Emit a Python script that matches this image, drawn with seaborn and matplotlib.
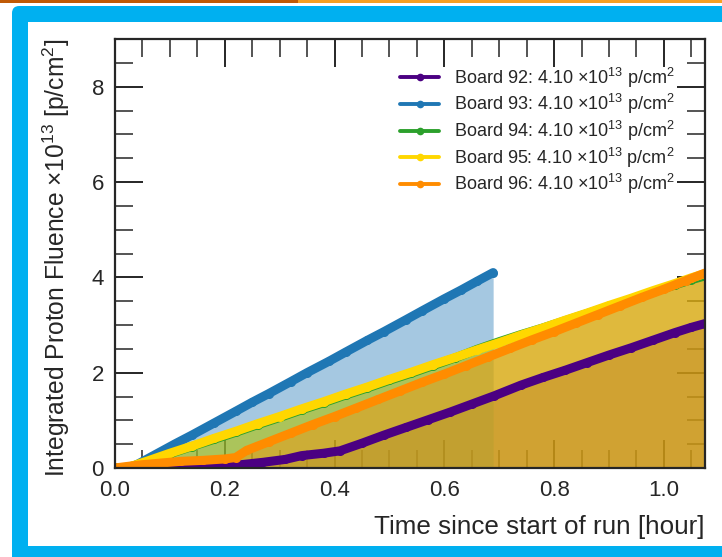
import matplotlib
matplotlib.use("Agg")
import matplotlib.pyplot as plt
import seaborn as sns
from matplotlib.patches import FancyBboxPatch, Rectangle
from matplotlib.ticker import MultipleLocator, FormatStrFormatter

# board labels and colours
boards = ["92", "93", "94", "95", "96"]
colors = ["#4b0082", "#1f77b4", "#2ca02c", "#ffd700", "#ff8c00"]
total_fluence = [4.10, 4.10, 4.10, 4.10, 4.10]

# time since start of run [hour]
t_92 = [0.0, 0.05, 0.09, 0.13, 0.17, 0.21, 0.23, 0.27, 0.31, 0.34, 0.38, 0.41, 0.45, 0.49,
        0.53, 0.57, 0.61, 0.65, 0.69, 0.74, 0.78, 0.82, 0.86, 0.90, 0.94, 0.98, 1.02, 1.05, 1.075]
f_92 = [0.0, 0.0, 0.01, 0.03, 0.05, 0.06, 0.07, 0.12, 0.18, 0.26, 0.31, 0.36, 0.52, 0.69,
        0.85, 1.01, 1.17, 1.34, 1.51, 1.74, 1.90, 2.05, 2.21, 2.37, 2.52, 2.68, 2.84, 2.95, 3.03]

t_93 = [0.0, 0.03, 0.07, 0.11, 0.14, 0.18, 0.22, 0.25, 0.28, 0.32, 0.35, 0.39, 0.42, 0.46,
        0.49, 0.53, 0.56, 0.60, 0.63, 0.66, 0.689]
f_93 = [0.0, 0.01, 0.26, 0.51, 0.69, 0.94, 1.19, 1.38, 1.56, 1.81, 2.00, 2.24, 2.43, 2.68,
        2.86, 3.11, 3.30, 3.55, 3.73, 3.92, 4.10]

t_94 = [0.0, 0.02, 0.06, 0.10, 0.14, 0.18, 0.22, 0.26, 0.30, 0.34, 0.38, 0.42, 0.46, 0.50,
        0.54, 0.58, 0.62, 0.66, 0.70, 0.74, 0.78, 0.82, 0.86, 0.90, 0.94, 0.98, 1.02, 1.05, 1.075]
f_94 = [0.0, 0.0, 0.14, 0.30, 0.45, 0.60, 0.75, 0.91, 1.06, 1.22, 1.37, 1.53, 1.68, 1.84,
        1.99, 2.15, 2.31, 2.49, 2.65, 2.80, 2.94, 3.09, 3.24, 3.39, 3.54, 3.69, 3.84, 3.95, 4.03]

t_95 = [0.0, 0.02, 0.06, 0.10, 0.14, 0.18, 0.22, 0.26, 0.30, 0.34, 0.38, 0.42, 0.46, 0.50,
        0.54, 0.58, 0.62, 0.66, 0.70, 0.74, 0.78, 0.82, 0.86, 0.90, 0.94, 0.98, 1.02, 1.05, 1.075]
f_95 = [0.0, 0.0, 0.15, 0.31, 0.46, 0.62, 0.77, 0.93, 1.08, 1.24, 1.39, 1.55, 1.70, 1.86,
        2.01, 2.17, 2.32, 2.48, 2.63, 2.79, 2.94, 3.10, 3.25, 3.41, 3.56, 3.72, 3.87, 3.99, 4.08]

t_96 = [0.0, 0.02, 0.05, 0.09, 0.12, 0.16, 0.20, 0.22, 0.24, 0.28, 0.32, 0.36, 0.40, 0.44,
        0.48, 0.52, 0.56, 0.60, 0.64, 0.68, 0.72, 0.76, 0.80, 0.84, 0.88, 0.92, 0.96, 1.00,
        1.04, 1.075]
f_96 = [0.0, 0.03, 0.07, 0.11, 0.14, 0.16, 0.19, 0.22, 0.37, 0.55, 0.73, 0.91, 1.08, 1.26,
        1.44, 1.62, 1.80, 1.97, 2.15, 2.33, 2.51, 2.69, 2.86, 3.04, 3.22, 3.40, 3.58, 3.75,
        3.93, 4.09]

times = [t_92, t_93, t_94, t_95, t_96]
fluences = [f_92, f_93, f_94, f_95, f_96]

sns.set_theme(style="ticks")
plt.rcParams["font.family"] = ["Liberation Sans", "DejaVu Sans"]
plt.rcParams["mathtext.default"] = "regular"

fig = plt.figure(figsize=(7.22, 5.57), dpi=100)

# slide-like frame around the plot
fig.add_artist(Rectangle((0, 1 - 3 / 557), 298 / 722, 3 / 557, transform=fig.transFigure,
                         color="#c05a06", lw=0, zorder=-5))
fig.add_artist(Rectangle((298 / 722, 1 - 3 / 557), 1, 3 / 557, transform=fig.transFigure,
                         color="#f7a023", lw=0, zorder=-5))
fig.add_artist(FancyBboxPatch((12 / 722, -0.2), 1.2, 1.2 - 6 / 557,
                              boxstyle="round,pad=0,rounding_size=0.01",
                              mutation_aspect=722 / 557, transform=fig.transFigure,
                              color="#00b0f0", lw=0, zorder=-4))
fig.add_artist(Rectangle((28 / 722, 11 / 557), 1, (546 - 22) / 557, transform=fig.transFigure,
                         color="white", lw=0, zorder=-3))

ax = fig.add_axes([115 / 722, 89 / 557, 590 / 722, 429 / 557])
ax.set_facecolor("white")

for b, c, tot, t, f in zip(boards, colors, total_fluence, times, fluences):
    label = f"Board {b}: {tot:.2f} ×$10^{{13}}$ p/$cm^2$"
    sns.lineplot(x=t, y=f, ax=ax, color=c, label=label, marker="o", markersize=6.5,
                 markeredgewidth=0, linewidth=6.5, solid_capstyle="round", sort=False,
                 estimator=None)
    ax.fill_between(t, f, 0, color=c, alpha=0.4, lw=0)

ax.set_xlim(0, 1.075)
ax.set_ylim(0, 9)
ax.xaxis.set_major_locator(MultipleLocator(0.2))
ax.xaxis.set_minor_locator(MultipleLocator(0.05))
ax.yaxis.set_major_locator(MultipleLocator(2))
ax.yaxis.set_minor_locator(MultipleLocator(0.5))
ax.xaxis.set_major_formatter(FormatStrFormatter("%.1f"))
ax.yaxis.set_major_formatter(FormatStrFormatter("%d"))
ax.tick_params(which="both", direction="in", top=True, right=True, labelsize=16)
ax.tick_params(axis="x", pad=9)
ax.tick_params(axis="y", pad=8)
ax.tick_params(which="major", length=20, width=1.4)
ax.tick_params(which="minor", length=13, width=1.1)
for s in ax.spines.values():
    s.set_linewidth(1.6)

ax.set_xlabel("Time since start of run [hour]", fontsize=18.7, loc="right", labelpad=10)
ax.set_ylabel("Integrated Proton Fluence ×$10^{13}$ [p/$cm^2$]", fontsize=17.7, loc="top",
              labelpad=14)

leg = ax.legend(loc="upper right", bbox_to_anchor=(0.961, 0.955), borderaxespad=0,
                frameon=False, fontsize=13, labelspacing=0.14,
                handlelength=2.2, handletextpad=0.8)
for ln in leg.get_lines():
    ln.set_linewidth(2.8)
    ln.set_markersize(5.5)

fig.savefig("out.png", dpi=100)
